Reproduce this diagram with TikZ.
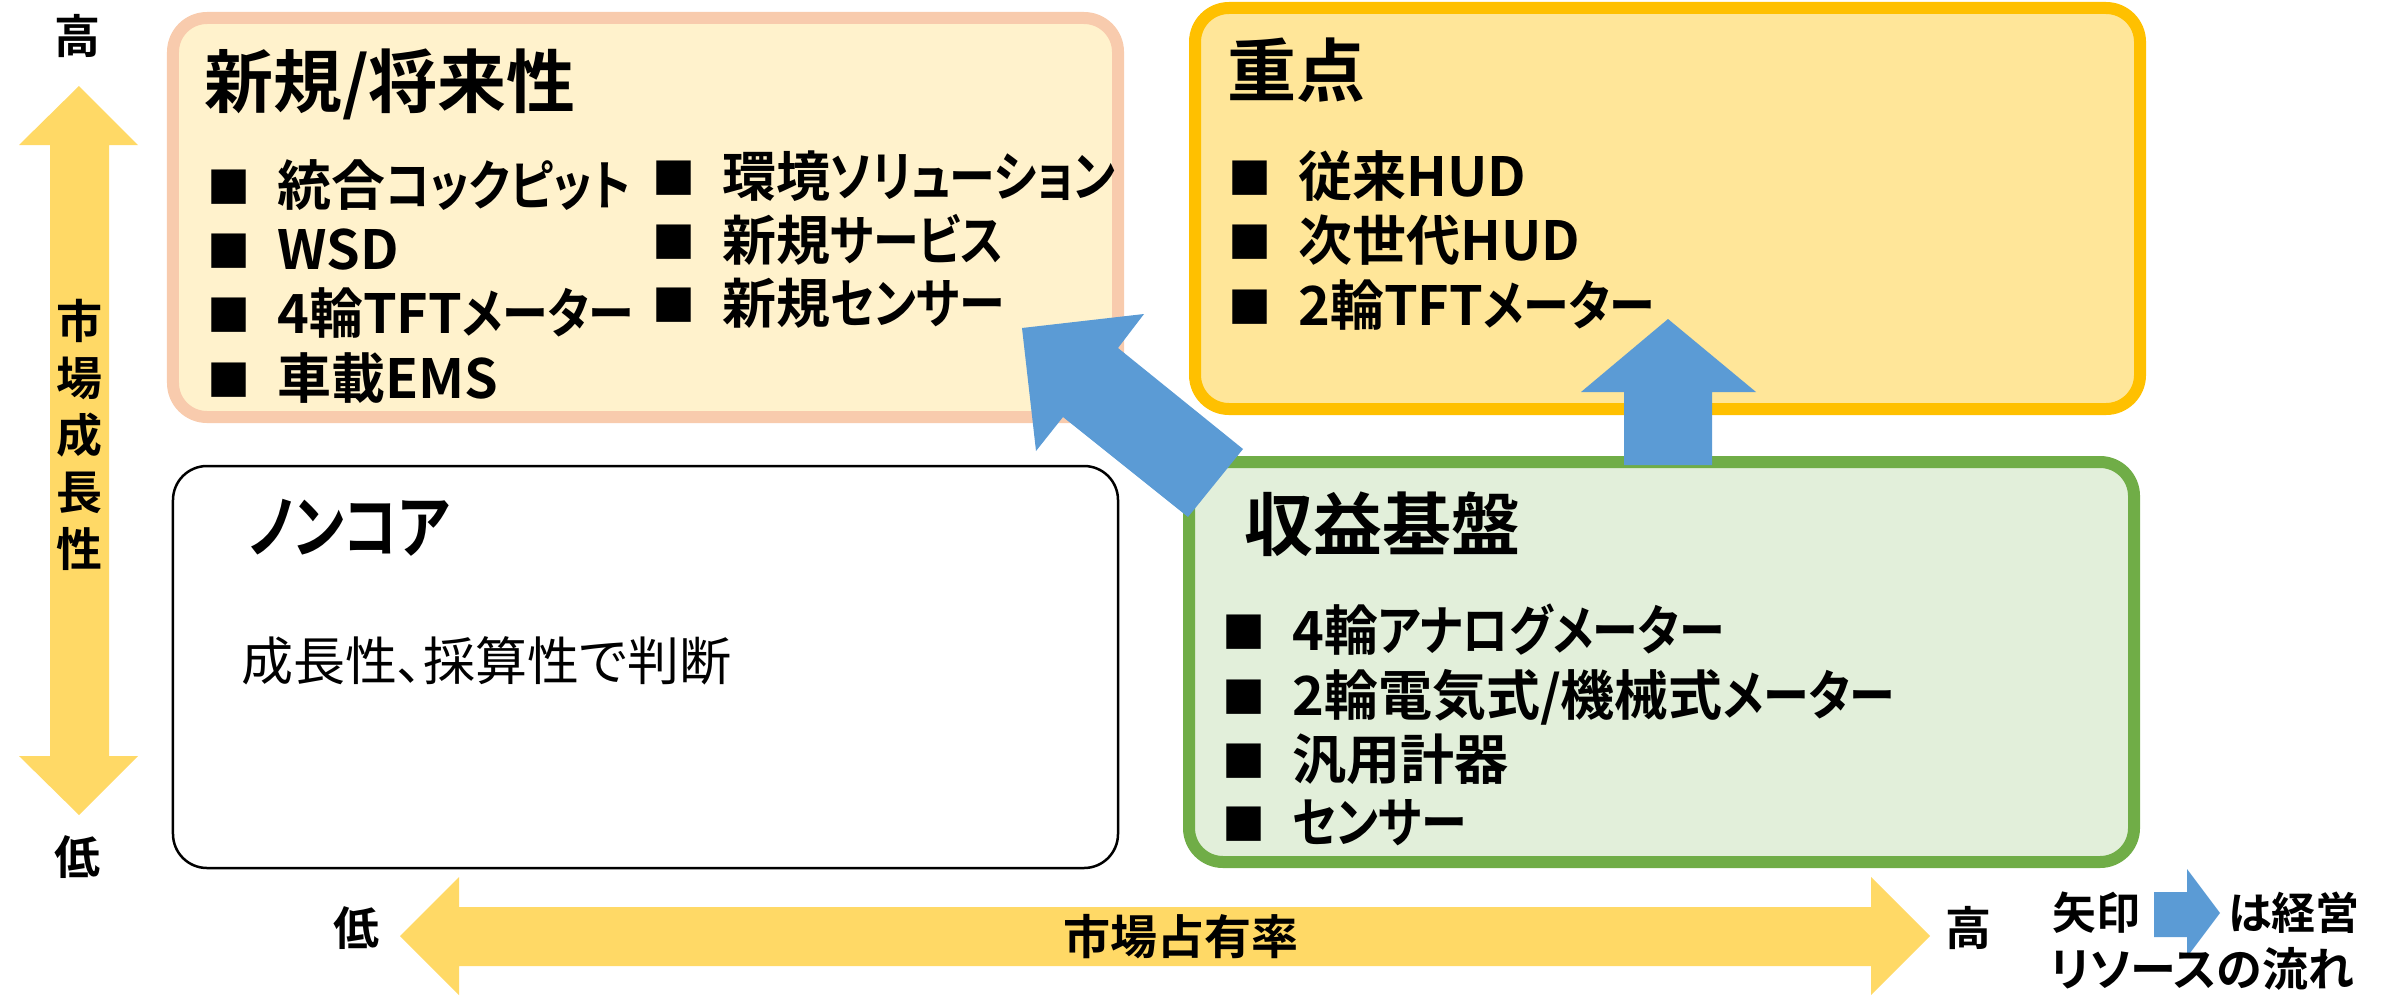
\documentclass[tikz,border=0pt]{standalone}
\usepackage{fontspec}
\usepackage{graphicx}
\setmainfont{Noto Sans CJK JP}[BoldFont={Noto Sans CJK JP Bold},RawFeature={+palt}]
\definecolor{axisyellow}{HTML}{FFD966}
\definecolor{flowblue}{HTML}{5B9BD5}
\definecolor{peachline}{HTML}{F8CBAD}
\definecolor{peachfill}{HTML}{FFF2CC}
\definecolor{goldline}{HTML}{FFC000}
\definecolor{goldfill}{HTML}{FFE699}
\definecolor{greenline}{HTML}{70AD47}
\definecolor{greenfill}{HTML}{E2EFDA}
\tikzset{
  quadbox/.style={rectangle,rounded corners=34bp,inner sep=0pt,outer sep=0pt,minimum width=945bp},
  titletext/.style={anchor=west,inner sep=0pt,font=\bfseries\fontsize{69bp}{69bp}\selectfont,text height=55bp,text depth=4bp},
  itemtext/.style={anchor=west,inner sep=0pt,font=\bfseries\fontsize{54bp}{54bp}\selectfont,text height=44bp,text depth=3bp},
  plaintext/.style={anchor=west,inner sep=0pt,font=\fontsize{52bp}{52bp}\selectfont,text height=42bp,text depth=3bp},
  axislabel/.style={inner sep=0pt,font=\bfseries\fontsize{46bp}{46bp}\selectfont,text height=38bp,text depth=3bp},
  legendtext/.style={anchor=west,inner sep=0pt,font=\bfseries\fontsize{44bp}{44bp}\selectfont,text height=36bp,text depth=3bp},
}
% narrower kana, as in the reference's typeface
\newcommand{\kn}[1]{\scalebox{0.85}[1]{#1}}
\newcommand{\knt}[1]{\scalebox{0.8}[1]{#1}}
\newcommand{\itm}[1]{\makebox[70bp][l]{\raisebox{2bp}{\fontsize{43bp}{43bp}\selectfont ■}}#1}
\begin{document}
\begin{tikzpicture}[x=1bp,y=-1bp]
\useasboundingbox (0,0) rectangle (2382,995);
% quadrant boxes
\node[quadbox,draw=peachline,fill=peachfill,line width=12bp,minimum height=399bp] (newbox) at (645.5,217.5) {};
\node[quadbox,draw=goldline,fill=goldfill,line width=12bp,minimum height=401bp] (keybox) at (1667.5,208.5) {};
\node[quadbox,draw=black,fill=white,line width=2.5bp,minimum height=402bp] (nonbox) at (645.5,667) {};
\node[quadbox,draw=greenline,fill=greenfill,line width=12bp,minimum height=400bp] (basebox) at (1661.5,662) {};
% axis arrows
\fill[axisyellow] (79,86) -- (138,145) -- (109,145) -- (109,756) -- (138,756) -- (79,815) -- (19,756) -- (50,756) -- (50,145) -- (19,145) -- cycle;
\fill[axisyellow] (400,936) -- (459,877) -- (459,907) -- (1871,907) -- (1871,877) -- (1930,936) -- (1871,995) -- (1871,966) -- (459,966) -- (459,995) -- cycle;
% resource flow arrows
\fill[flowblue] (1022,328) -- (1144,314) -- (1118,348) -- (1243,449) -- (1188,517) -- (1063,417) -- (1036,451) -- cycle;
\fill[flowblue] (1668,319) -- (1756,392) -- (1712,392) -- (1712,465) -- (1624,465) -- (1624,392) -- (1581,392) -- cycle;
\fill[flowblue] (2220,913) -- (2187,869) -- (2187,892) -- (2154,892) -- (2154,937) -- (2187,937) -- (2187,957) -- cycle;
% axis labels
\node[axislabel] (yhigh) at (77,36) {高};
\node[axislabel] (ylow) at (77,857) {低};
\node[inner sep=0pt,align=center,font=\bfseries\fontsize{46bp}{57bp}\selectfont] (ytitle) at (79,435) {市\\場\\成\\長\\性};
\node[axislabel] (xlow) at (356,928) {低};
\node[axislabel] (xhigh) at (1968,928) {高};
\node[axislabel,font=\bfseries\fontsize{47bp}{47bp}\selectfont] (xtitle) at (1181,937) {市場占有率};
% new / future
\node[titletext] (newtitle) at (204,82) {新規/将来性};
\node[itemtext] (n1) at (207,185) {\itm{統合\kn{コックピット}}};
\node[itemtext] (n2) at (207,249) {\itm{WSD}};
\node[itemtext] (n3) at (207,313) {\itm{4輪TFT\kn{メーター}}};
\node[itemtext] (n4) at (207,378) {\itm{車載EMS}};
\node[itemtext] (n5) at (652,176) {\itm{環境\kn{ソリューション}}};
\node[itemtext] (n6) at (652,240) {\itm{新規\kn{サービス}}};
\node[itemtext] (n7) at (652,303) {\itm{新規\kn{センサー}}};
% key
\node[titletext] (keytitle) at (1227,71) {重点};
\node[itemtext] (k1) at (1228,176) {\itm{従来HUD}};
\node[itemtext] (k2) at (1228,240) {\itm{次世代HUD}};
\node[itemtext] (k3) at (1228,305) {\itm{2輪TFT\kn{メーター}}};
% non core
\node[titletext] (nontitle) at (249,527) {\knt{ノンコア}};
\node[plaintext] (nontext) at (241,661) {成長性、採算性で判断};
% revenue base
\node[titletext] (basetitle) at (1244,525) {収益基盤};
\node[itemtext] (b1) at (1222,630) {\itm{4輪\kn{アナログメーター}}};
\node[itemtext] (b2) at (1222,695) {\itm{2輪電気式/機械式\kn{メーター}}};
\node[itemtext] (b3) at (1222,759) {\itm{汎用計器}};
\node[itemtext] (b4) at (1222,822) {\itm{\kn{センサー}}};
% legend
\node[legendtext] (lega) at (2052,913) {矢印};
\node[legendtext] (legb) at (2228,913) {は経営};
\node[legendtext,font=\bfseries\fontsize{46bp}{46bp}\selectfont] (legc) at (2050,970) {リソースの流れ};
\end{tikzpicture}
\end{document}
